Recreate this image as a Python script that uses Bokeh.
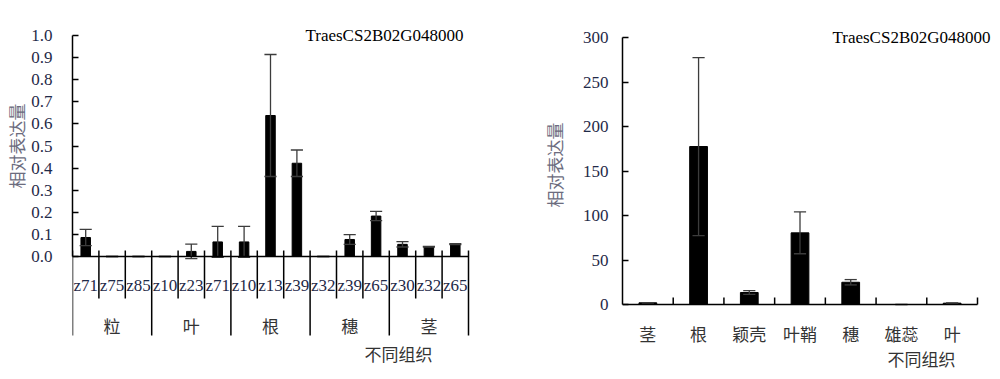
from bokeh.plotting import figure
from bokeh.layouts import row
from bokeh.models import Range1d, FixedTicker, NumeralTickFormatter, Label, Title
from bokeh.embed import file_html
from bokeh.resources import INLINE
from bokeh.core.properties import value

# ---------------- data ----------------
gene_name = "TraesCS2B02G048000"
x_title = "不同组织"
y_title = "相对表达量"

left_groups = ["粒", "叶", "根", "穗", "茎"]
left_stages = ["z71", "z75", "z85", "z10", "z23", "z71", "z10", "z13", "z39",
               "z32", "z39", "z65", "z30", "z32", "z65"]
left_values = [0.086, 0.0, 0.0, 0.0, 0.023, 0.066, 0.066, 0.638, 0.422,
               0.0, 0.077, 0.183, 0.055, 0.044, 0.056]
left_errors = [0.037, 0.0, 0.0, 0.0, 0.033, 0.070, 0.070, 0.276, 0.060,
               0.0, 0.022, 0.021, 0.012, 0.002, 0.002]
left_yticks = [0.0, 0.1, 0.2, 0.3, 0.4, 0.5, 0.6, 0.7, 0.8, 0.9, 1.0]

right_tissues = ["茎", "根", "颖壳", "叶鞘", "穗", "雄蕊", "叶"]
right_values = [1.9, 177.5, 13.5, 80.5, 25.0, 0.0, 1.5]
right_errors = [0.3, 100.0, 2.2, 23.5, 3.0, 0.0, 0.3]
right_yticks = [0, 50, 100, 150, 200, 250, 300]

# ---------------- style ----------------
SERIF = "'Liberation Serif', 'Noto Sans CJK SC'"
CJK = "'Noto Sans CJK SC'"
NAVY = "#1f2a48"
ERR = "#3c3c3c"
LBL = "#6c6c7e"
FS = "17px"
TOP = 20
FRAME_H = 351


def base_fig(frame_w, xr, yr, left, right):
    p = figure(frame_width=frame_w, frame_height=FRAME_H, x_range=xr, y_range=yr,
               x_axis_type=None, output_backend="svg", toolbar_location=None,
               title=None, min_border_left=left, min_border_right=right,
               min_border_top=TOP, min_border_bottom=0)
    p.outline_line_color = None
    p.grid.visible = False
    p.background_fill_color = "white"
    p.border_fill_color = "white"
    return p


def style_yaxis(p, ticks, standoff, title_standoff, title_offset, fmt=None):
    ax = p.yaxis[0]
    ax.ticker = FixedTicker(ticks=ticks)
    if fmt:
        ax.formatter = NumeralTickFormatter(format=fmt)
    ax.bounds = (ticks[0], ticks[-1])
    ax.minor_tick_line_color = None
    ax.major_tick_in = 6
    ax.major_tick_out = 0
    ax.major_tick_line_width = 1.5
    ax.axis_line_width = 1.5
    ax.major_label_text_font = "Liberation Serif"
    ax.major_label_text_font_size = FS
    ax.major_label_text_color = NAVY
    ax.major_label_standoff = standoff
    p.add_layout(Title(text=y_title, align="right", offset=title_offset,
                       standoff=title_standoff, text_font="Noto Sans CJK SC",
                       text_font_size="17px", text_font_style="normal",
                       text_color=LBL), "left")


def error_bars(p, xs, vals, errs, half_cap):
    lo = [v - e for v, e in zip(vals, errs)]
    hi = [v + e for v, e in zip(vals, errs)]
    p.segment(x0=xs, y0=lo, x1=xs, y1=hi, line_color=ERR, line_width=1.3)
    xl = [x - half_cap for x in xs]
    xr = [x + half_cap for x in xs]
    p.segment(x0=xl, y0=hi, x1=xr, y1=hi, line_color=ERR, line_width=1.3)
    p.segment(x0=xl, y0=lo, x1=xr, y1=lo, line_color=ERR, line_width=1.3)


# ---------------- left chart ----------------
nL = len(left_stages)
gsize = nL // len(left_groups)
L_PX = 221.0          # pixels per unit (y)
L_UX = 26.4           # pixels per category (x)
L_FW = 404
lp = base_fig(L_FW, Range1d(0, L_FW / L_UX),
              Range1d(-(FRAME_H - 236) / L_PX, 236 / L_PX), 72, 32)
style_yaxis(lp, left_yticks, 20, 0, 83, fmt="0.0")

xsL = [i + 0.5 for i in range(nL)]
lp.vbar(x=xsL, top=left_values, width=0.36, color="black")
error_bars(lp, xsL, left_values, left_errors, 0.23)

lp.segment(x0=[0], y0=[0], x1=[nL], y1=[0], line_color="black", line_width=1.5)
bx = list(range(nL + 1))
b_top = [6 / L_PX] * len(bx)
b_bot = [(-79 if b % gsize == 0 else -42) / L_PX for b in bx]
lp.segment(x0=bx, y0=b_top, x1=bx, y1=b_bot, line_color="black", line_width=1.5)

lp.text(x=xsL, y=[0] * nL, text=left_stages, text_font=value(SERIF), text_font_size=FS,
        text_color=NAVY, text_align="center", text_baseline="middle", y_offset=29)
gx = [g * gsize + gsize / 2 for g in range(len(left_groups))]
lp.text(x=gx, y=[0] * len(gx), text=left_groups, text_font=value(CJK), text_font_size=FS,
        text_color="#333333", text_align="center", text_baseline="middle", y_offset=69)
lp.text(x=[nL], y=[0], text=[x_title], text_font=value(CJK), text_font_size=FS,
        text_color="#333333", text_align="right", text_baseline="middle",
        x_offset=-36, y_offset=97)
lp.add_layout(Label(x=nL, y=left_yticks[-1], text=gene_name, text_align="right",
                    text_baseline="middle", x_offset=-5, text_font="Liberation Serif",
                    text_font_size=FS, text_color="black"))

# ---------------- right chart ----------------
nR = len(right_tissues)
R_PX = 267 / 300.0
R_UX = 355 / nR
R_FW = 370
rp = base_fig(R_FW, Range1d(0, R_FW / R_UX),
              Range1d(-(FRAME_H - 284) / R_PX, 284 / R_PX), 114, 0)
style_yaxis(rp, right_yticks, 14, 25, 102)

xsR = [i + 0.5 for i in range(nR)]
rp.vbar(x=xsR, top=right_values, width=0.35, color="black")
error_bars(rp, xsR, right_values, right_errors, 0.12)

rp.segment(x0=[0], y0=[0], x1=[nR], y1=[0], line_color="black", line_width=1.5)
rbx = list(range(1, nR + 1))
rp.segment(x0=rbx, y0=[0] * len(rbx), x1=rbx, y1=[7 / R_PX] * len(rbx),
           line_color="black", line_width=1.5)

rp.text(x=xsR, y=[0] * nR, text=right_tissues, text_font=value(CJK), text_font_size=FS,
        text_color="#333333", text_align="center", text_baseline="middle", y_offset=29)
rp.text(x=[nR], y=[0], text=[x_title], text_font=value(CJK), text_font_size=FS,
        text_color="#333333", text_align="right", text_baseline="middle",
        x_offset=-22, y_offset=54)
rp.add_layout(Label(x=nR, y=right_yticks[-1], text=gene_name, text_align="right",
                    text_baseline="middle", x_offset=13, text_font="Liberation Serif",
                    text_font_size=FS, text_color="black"))

layout = row(lp, rp)
open("out.html", "w").write(file_html(layout, INLINE))
